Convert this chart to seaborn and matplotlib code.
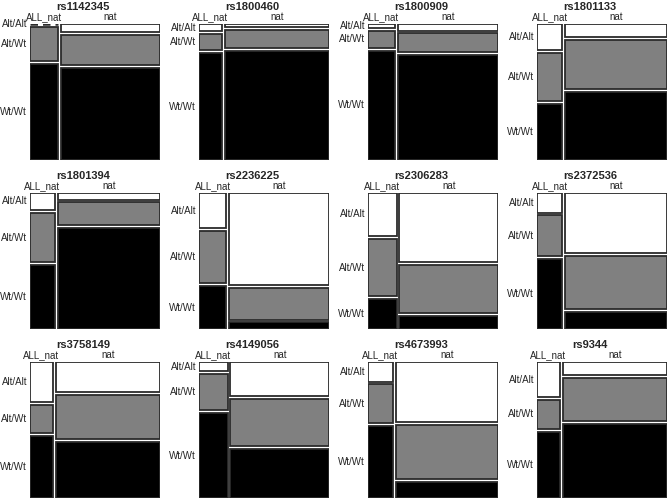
import matplotlib
matplotlib.use("Agg")
import matplotlib.pyplot as plt
import numpy as np
import seaborn as sns

# genotype shares per SNP
snps = ["rs1142345", "rs1800460", "rs1800909", "rs1801133",
        "rs1801394", "rs2236225", "rs2306283", "rs2372536",
        "rs3758149", "rs4149056", "rs4673993", "rs9344"]
all_nat_share = [0.22, 0.18, 0.21, 0.20, 0.195, 0.215, 0.225, 0.20, 0.18, 0.225, 0.195, 0.18]

all_nat_alt_alt = [0.00, 0.055, 0.03, 0.20, 0.13, 0.27, 0.33, 0.15, 0.31, 0.07, 0.15, 0.27]
all_nat_alt_wt = [0.26, 0.125, 0.13, 0.37, 0.38, 0.40, 0.44, 0.31, 0.21, 0.28, 0.30, 0.22]
all_nat_wt_wt = [0.74, 0.82, 0.84, 0.43, 0.49, 0.33, 0.23, 0.54, 0.48, 0.65, 0.55, 0.51]

nat_alt_alt = [0.06, 0.02, 0.05, 0.10, 0.05, 0.71, 0.53, 0.46, 0.23, 0.26, 0.46, 0.10]
nat_alt_wt = [0.23, 0.14, 0.145, 0.38, 0.17, 0.24, 0.37, 0.41, 0.34, 0.36, 0.42, 0.33]
nat_wt_wt = [0.71, 0.84, 0.805, 0.52, 0.78, 0.05, 0.10, 0.13, 0.43, 0.38, 0.12, 0.57]

genotypes = ["Alt/Alt", "Alt/Wt", "Wt/Wt"]
groups = ["ALL_nat", "nat"]
fills = ["white", "#808080", "black"]

sns.set_theme(style="white")
plt.rcParams["font.family"] = ["Liberation Sans", "DejaVu Sans"]

W, H = 669, 500
fig = plt.figure(figsize=(W / 100, H / 100), dpi=100)

col_left = [30, 199, 368, 537]
row_top = [24, 193, 362]
pw, ph = 130, 136
gap = 0.022


def draw_mosaic(ax, i):
    share = all_nat_share[i]
    cols = [[all_nat_alt_alt[i], all_nat_alt_wt[i], all_nat_wt_wt[i]],
            [nat_alt_alt[i], nat_alt_wt[i], nat_wt_wt[i]]]
    widths = np.array([share, 1 - share]) * (1 - gap)
    lefts = [0, widths[0] + gap]
    for c in range(2):
        fr = np.array(cols[c]) / np.sum(cols[c])
        heights = fr * (1 - 2 * gap)
        tops = np.concatenate([[0], np.cumsum(heights)[:-1]]) + np.arange(3) * gap
        for k in range(3):
            if heights[k] <= 0:
                ax.hlines(tops[k], lefts[c], lefts[c] + widths[c], colors="#2b2b2b",
                          linestyles=(0, (3, 2)), lw=1.8)
            else:
                ax.bar(lefts[c], heights[k], width=widths[c], bottom=tops[k], align="edge",
                       color=fills[k], edgecolor="#2b2b2b", linewidth=1.3)
        ax.annotate(groups[c], xy=(lefts[c] + widths[c] / 2, 1), xycoords=("data", "axes fraction"),
                    xytext=(0, 2), textcoords="offset pixels", ha="center", va="bottom", fontsize=7)
        if c == 0:
            for k in range(3):
                yc = tops[k] + heights[k] / 2
                ax.annotate(genotypes[k], xy=(0, yc), xytext=(-3, 0), textcoords="offset pixels",
                            ha="right", va="center", fontsize=7)
    ax.annotate(snps[i], xy=(0.5, 1), xycoords="axes fraction", xytext=(-12, 12),
                textcoords="offset pixels", ha="center", va="bottom", fontsize=8, fontweight="bold")
    ax.set_xlim(0, 1)
    ax.set_ylim(1, 0)
    ax.set_axis_off()


for i in range(len(snps)):
    r, c = divmod(i, 4)
    ax = fig.add_axes([col_left[c] / W, 1 - (row_top[r] + ph) / H, pw / W, ph / H])
    draw_mosaic(ax, i)

fig.savefig("out.png", dpi=100)
